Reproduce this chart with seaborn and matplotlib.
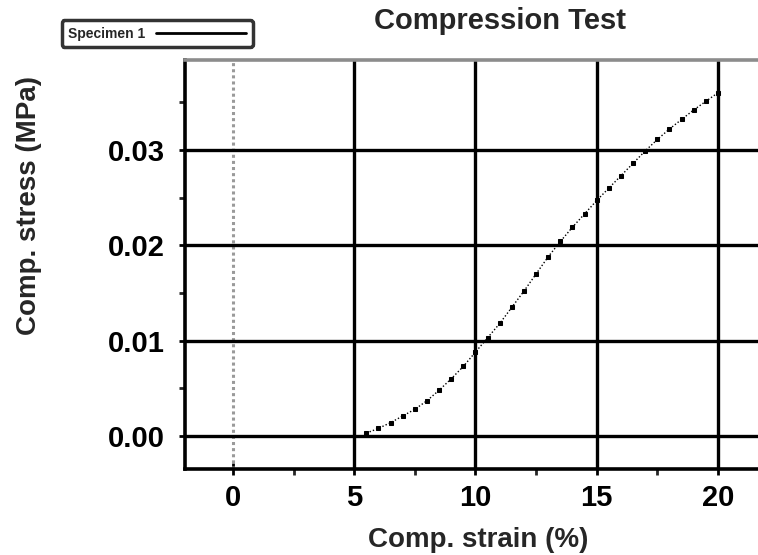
import matplotlib
matplotlib.use("Agg")
import matplotlib.pyplot as plt
from matplotlib.ticker import MultipleLocator
import seaborn as sns
import pandas as pd

# compression test, specimen 1
strain = [5.5, 6.0, 6.5, 7.0, 7.5, 8.0, 8.5, 9.0, 9.5, 10.0,
          10.5, 11.0, 11.5, 12.0, 12.5, 13.0, 13.5, 14.0, 14.5, 15.0,
          15.5, 16.0, 16.5, 17.0, 17.5, 18.0, 18.5, 19.0, 19.5, 20.0]
stress = [0.0003, 0.0008, 0.0014, 0.0021, 0.0028, 0.0037, 0.0048, 0.0060, 0.0073, 0.0088,
          0.0103, 0.0118, 0.0135, 0.0152, 0.0170, 0.0188, 0.0204, 0.0219, 0.0233, 0.0247,
          0.0260, 0.0273, 0.0286, 0.0299, 0.0311, 0.0322, 0.0332, 0.0342, 0.0351, 0.0360]
series_name = "Specimen 1"
xticks = [0, 5, 10, 15, 20]
yticks = [0.00, 0.01, 0.02, 0.03]

df = pd.DataFrame({"strain": strain, "stress": stress, "specimen": series_name})

sns.set_style("white")
plt.rcParams["font.family"] = ["Liberation Sans", "DejaVu Sans"]
plt.rcParams["font.weight"] = "bold"

fig = plt.figure(figsize=(7.58, 5.55), dpi=100)
ax = fig.add_axes([0.244, 0.155, 0.756, 0.737])

# grid drawn by hand so the x=0 line can be a grey dotted one
for xv in xticks[1:]:
    ax.axvline(xv, color="black", lw=2.4, zorder=1)
ax.axvline(0, color="#9a9a9a", lw=2.2, ls=(0, (1, 1)), zorder=1)
for yv in yticks:
    ax.axhline(yv, color="black", lw=2.4, zorder=1)

sns.lineplot(data=df, x="strain", y="stress", hue="specimen", palette=["black"],
             marker="s", markersize=3.2, lw=1.0, linestyle=(0, (1, 1.5)),
             markeredgecolor="black", ax=ax, legend=False, zorder=3)

ax.set_xlim(-1.98, 21.65)
ax.set_ylim(-0.00346, 0.03944)
ax.set_xticks(xticks)
ax.set_yticks(yticks)
ax.set_xticklabels([str(v) for v in xticks])
ax.set_yticklabels([f"{v:.2f}" for v in yticks])
ax.xaxis.set_minor_locator(MultipleLocator(2.5))
ax.yaxis.set_minor_locator(MultipleLocator(0.005))
ax.tick_params(axis="both", which="major", direction="inout", length=9, width=2,
               labelsize=21, colors="black")
ax.tick_params(axis="x", which="major", pad=6)
ax.tick_params(axis="y", which="major", pad=10)
ax.tick_params(axis="both", which="minor", direction="out", length=4, width=2)
ax.tick_params(axis="x", which="both", bottom=True)
ax.tick_params(axis="y", which="both", left=True)

for side in ["left", "bottom"]:
    ax.spines[side].set_linewidth(2.6)
    ax.spines[side].set_color("black")
ax.spines["top"].set_linewidth(2.6)
ax.spines["top"].set_color("#8c8c8c")
ax.spines["right"].set_visible(False)

ax.set_xlabel("Comp. strain (%)", fontsize=20, fontweight="bold")
ax.set_ylabel("Comp. stress (MPa)", fontsize=20, fontweight="bold")
ax.xaxis.set_label_coords(0.511, -0.142)
ax.yaxis.set_label_coords(-0.25, 0.643)

fig.text(0.66, 0.962, "Compression Test", ha="center", va="center",
         fontsize=21, fontweight="bold")

# legend box in the top left corner of the figure
handle = plt.Line2D([], [], color="black", lw=2)
leg = fig.legend([handle], [series_name], loc="upper left", bbox_to_anchor=(0.072, 0.976),
                 frameon=True, fancybox=True, edgecolor="black",
                 handlelength=6.5, markerfirst=False, borderpad=0.45,
                 prop={"weight": "bold", "size": 10})
leg.get_frame().set_linewidth(2.5)

fig.savefig("out.png", dpi=100)
